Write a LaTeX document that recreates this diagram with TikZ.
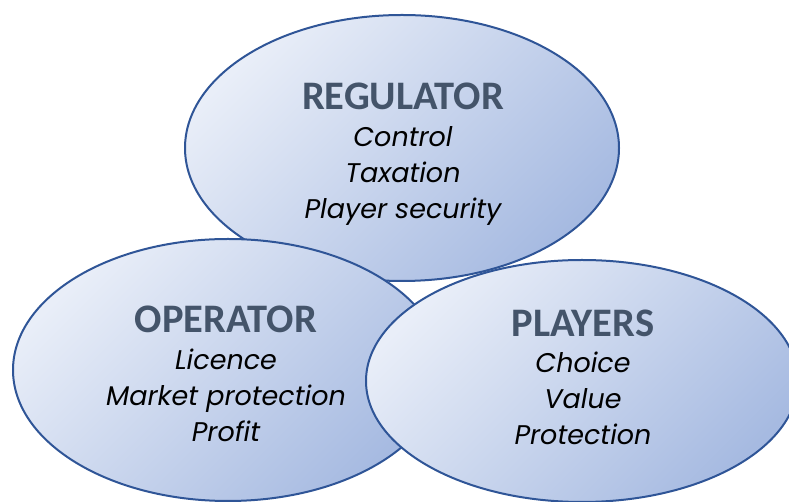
\documentclass[tikz,border=0pt]{standalone}
\usepackage{fontspec}
\setmainfont{Carlito}
\newfontfamily\itemfont{Poppins}
\usetikzlibrary{shapes.geometric}

\definecolor{ringedge}{HTML}{2F5597}
\definecolor{shadelight}{HTML}{E9EEF8}
\definecolor{shadedark}{HTML}{A6BAE1}
\definecolor{headcolor}{HTML}{44546A}

\tikzset{
  bubble/.style={ellipse, draw=ringedge, line width=2pt, inner sep=0pt,
    top color=shadelight, bottom color=shadedark, shading angle=45},
  heading/.style={anchor=base, text=headcolor, font=\fontsize{40.5}{41}\selectfont\bfseries, inner sep=0pt},
  entry/.style={anchor=base, text=black, font=\fontsize{27}{27}\selectfont\itemfont\itshape, inner sep=0pt}
}

\begin{document}
\begin{tikzpicture}[x=1pt, y=1pt]
  \useasboundingbox (0,0) rectangle (789,502);
  \clip (0,0) rectangle (789,502);

  % three overlapping stakeholder bubbles
  \node[bubble, minimum width=434pt, minimum height=266pt] (regulator) at (402,354) {};
  \node[bubble, minimum width=430pt, minimum height=262pt] (operator) at (228,132) {};
  \node[bubble, minimum width=432pt, minimum height=242pt] (players) at (582,121) {};

  % regulator texts
  \node[heading] (regT) at (403,392) {REGULATOR};
  \node[entry] (reg1) at (403,355) {Control};
  \node[entry] (reg2) at (403,319) {Taxation};
  \node[entry] (reg3) at (403,283) {Player security};

  % operator texts
  \node[heading] (opT) at (226,169) {OPERATOR};
  \node[entry] (op1) at (226,132) {Licence};
  \node[entry] (op2) at (226,96) {Market protection};
  \node[entry] (op3) at (226,60) {Profit};

  % players texts
  \node[heading] (plT) at (583,165) {PLAYERS};
  \node[entry] (pl1) at (583,129) {Choice};
  \node[entry] (pl2) at (583,93) {Value};
  \node[entry] (pl3) at (583,57) {Protection};
\end{tikzpicture}
\end{document}
